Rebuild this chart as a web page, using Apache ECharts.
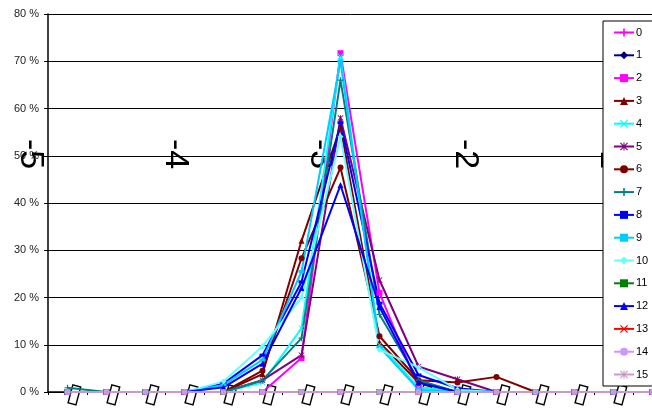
<!DOCTYPE html>
<html>
<head>
<meta charset="utf-8">
<script src="https://cdn.jsdelivr.net/npm/echarts@6/dist/echarts.min.js"></script>
<style>
  html, body { margin: 0; padding: 0; background: #fff; }
  #chart { width: 652px; height: 418px; }
</style>
</head>
<body>
<div id="chart"></div>
<script>
// category labels (glyphs that the original font could not show)
const categories = ['▯','▯','▯','▯','▯','▯','▯','▯','▯','▯','▯','▯','▯','▯','▯','▯','▯'];
const bigLabels = ['-5', '-4', '-3', '-2', '-1'];
const seriesNames = ['0','1','2','3','4','5','6','7','8','9','10','11','12','13','14','15'];

const s0  = [0,0,0,0,0,0,0,0,0,0,0,0,0,0,0,0,0];
const s1  = [0,0,0,0,0,0,0,0,0,0,0,0,0,0,0,0,0];
const s2  = [0,0,0,0,0,0,7.2,71.7,21,1,0,0,0,0,0,0,0];
const s3  = [0,0,0,0,0,3.8,32,56,10.5,2,0,0,0,0,0,0,0];
const s4  = [0,0,0,0,0,2,13.5,71,10,1,0,0,0,0,0,0,0];
const s5  = [0,0,0,0,0,2.5,7.8,58,23.7,5.4,2.7,0,0,0,0,0,0];
const s6  = [0,0,0,0,0,4.5,28.3,47.5,11.8,2.5,2,3.2,0,0,0,0,0];
const s7  = [0.9,0,0,0,0,2.5,11.4,66,16.4,2.5,0,0,0,0,0,0,0];
const s8  = [0,0,0,0,1.8,7.8,23.3,57,18.8,3.6,0.8,0,0,0,0,0,0];
const s9  = [0,0,0,0,1.5,6.8,25.5,70,9.5,0.5,0,0,0,0,0,0,0];
const s10 = [0,0,0,0,2.2,9.7,20,54,8.9,5.2,0.5,0,0,0,0,0,0];
const s11 = [0,0,0,0,0,0,0,0,0,0,0,0,0,0,0,0,0];
const s12 = [0,0,0,0,1,6,22,43.8,18,2,0,0,0,0,0,0,0];
const s13 = [0,0,0,0,0,0,0,0,0,0,0,0,0,0,0,0,0];
const s14 = [0,0,0,0,0,0,0,0,0,0,0,0,0,0,0,0,0];
const s15 = [0,0,0,0,0,0,0,0,0,0,0,0,0,0,0,0,0];

const allData = [s0,s1,s2,s3,s4,s5,s6,s7,s8,s9,s10,s11,s12,s13,s14,s15];

const colors = ['#FF00FF','#000080','#FF00FF','#800000','#00FFFF','#800080','#800000','#008080',
                '#0000FF','#00CCFF','#66FFFF','#008000','#0000FF','#FF0000','#CC99FF','#CC99CC'];

const PLUS = 'path://M4,0H6V4H10V6H6V10H4V6H0V4H4Z';
const CROSS = 'path://M1,0L5,4L9,0L10,1L6,5L10,9L9,10L5,6L1,10L0,9L4,5L0,1Z';
const STAR = 'path://M1,0L5,4L9,0L10,1L6,5L10,9L9,10L5,6L1,10L0,9L4,5L0,1Z M4.3,0H5.7V10H4.3Z';
const DASH = 'path://M0,3H10V7H0Z';
const symbols = [PLUS,'diamond','rect','triangle',CROSS,STAR,'circle',PLUS,
                 DASH,DASH,'diamond','rect','triangle',CROSS,'circle',STAR];

const font = 'Liberation Sans, Arial, sans-serif';

const chart = echarts.init(document.getElementById('chart'));

const series = allData.map((d, i) => ({
  name: seriesNames[i],
  type: 'line',
  data: d,
  xAxisIndex: 0,
  yAxisIndex: 0,
  symbol: symbols[i],
  symbolSize: symbols[i] === DASH ? [6, 3] : 6,
  showAllSymbol: true,
  lineStyle: { color: colors[i], width: 2 },
  itemStyle: { color: colors[i] },
  animation: false
}));

chart.setOption({
  animation: false,
  backgroundColor: '#fff',
  textStyle: { fontFamily: font },
  grid: [
    { left: 48, top: 14, width: 663, bottom: 26, outerBoundsMode: 'none', containLabel: false },
    { left: 30, width: 580, top: 154, height: 1, outerBoundsMode: 'none', containLabel: false }
  ],
  legend: {
    orient: 'vertical',
    left: 603,
    top: 21,
    padding: [6, 14, 6, 10],
    itemWidth: 20,
    itemHeight: 10,
    itemGap: 11.8,
    borderColor: '#000',
    borderWidth: 1,
    backgroundColor: '#fff',
    textStyle: { fontSize: 11, color: '#000', fontFamily: font, padding: [0, 0, 0, -3] },
    data: seriesNames
  },
  xAxis: [
    {
      type: 'category',
      gridIndex: 0,
      data: categories,
      boundaryGap: true,
      axisLine: { lineStyle: { color: '#000', width: 1.5 } },
      axisTick: { show: true, length: 3, lineStyle: { color: '#000' } },
      axisLabel: { fontSize: 26, color: '#000', rotate: -15, margin: 1, interval: 0, fontFamily: 'DejaVu Sans' }
    },
    {
      type: 'category',
      gridIndex: 1,
      position: 'top',
      boundaryGap: false,
      data: bigLabels,
      axisLine: { show: false },
      axisTick: { show: false },
      axisLabel: {
        fontSize: 34, color: '#000', rotate: -90, margin: 0,
        align: 'center', verticalAlign: 'middle', interval: 0, fontFamily: font
      }
    }
  ],
  yAxis: [
    {
      type: 'value',
      gridIndex: 0,
      min: 0,
      max: 80,
      interval: 10,
      axisLine: { show: true, lineStyle: { color: '#000', width: 1.5 } },
      axisTick: { show: true, length: 4, lineStyle: { color: '#000' } },
      axisLabel: { formatter: '{value} %', fontSize: 11, color: '#222', margin: 9 },
      splitLine: { show: true, lineStyle: { color: '#000', width: 1 } }
    },
    { type: 'value', gridIndex: 1, show: false }
  ],
  series: series
});
</script>
</body>
</html>
